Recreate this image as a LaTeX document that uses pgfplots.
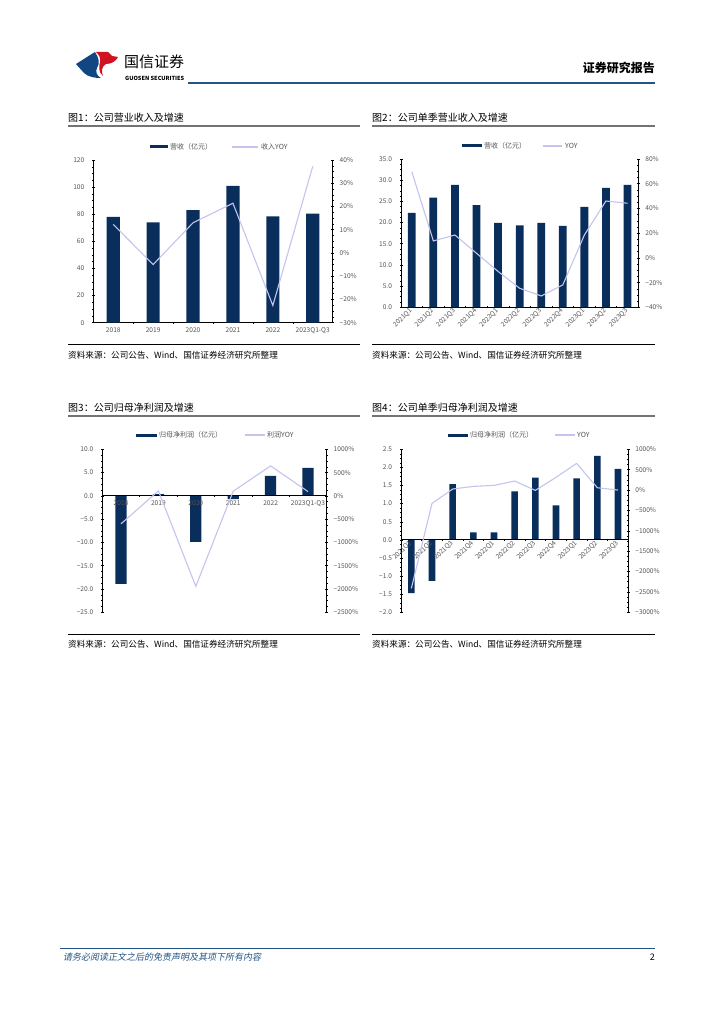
\documentclass[border=0pt]{standalone}
\usepackage{fontspec}
\setmainfont{Noto Sans CJK SC}
\newfontfamily\slantcjk{Noto Sans CJK SC}[FakeSlant=0.2]
\usepackage{pgfplots}
\pgfplotsset{compat=1.18}

\definecolor{navy}{RGB}{10,46,92}
\definecolor{lav}{RGB}{196,196,238}
\definecolor{hdrblue}{RGB}{34,84,134}
\definecolor{tickgray}{RGB}{85,85,85}
\definecolor{logored}{RGB}{206,20,35}
\definecolor{logoblue}{RGB}{18,70,130}

\newcommand\tickfont{\fontsize{6.6}{7.5}\selectfont}
\newcommand\legfont{\fontsize{7}{8}\selectfont}

\pgfplotsset{
  common/.style={
    scale only axis, anchor=south west, enlargelimits=false,
    tick label style={font=\tickfont, text=tickgray},
    /pgf/number format/assume math mode=true,
    tick align=inside,
    tick style={black, line width=0.5pt},
    major tick length=3pt, minor tick length=2pt,
  },
  nolinearrows/.style={
    axis line style={-, line width=0.8pt, black},
    every outer x axis line/.append style={-},
    every outer y axis line/.append style={-},
    every inner x axis line/.append style={-},
    every inner y axis line/.append style={-},
  },
  barax/.style={common, ybar, axis y line=left, axis x line=bottom, nolinearrows,
    y tick label style={xshift=-4pt},
    major x tick style={draw=none}, minor x tick style={black, line width=0.5pt}},
  barmid/.style={common, ybar, axis y line=left, axis x line=middle, nolinearrows,
    axis on top, y tick label style={xshift=-4pt},
    major x tick style={draw=none}, minor x tick style={black, line width=0.5pt}},
  lineax/.style={common, axis y line=right, axis x line=none, nolinearrows,
    y tick label style={xshift=2pt}},
  bars/.style={fill=navy, draw=none},
  yoy/.style={lav, line width=1.1pt, mark=none},
}

\begin{document}
\begin{tikzpicture}[x=1pt,y=1pt]
\fill[white] (0,0) rectangle (724,-1024);

% ---- header
\fill[logoblue] (76,-64) .. controls (84,-59) and (90,-55) .. (95,-52)
  .. controls (99,-58) and (100,-63) .. (97,-68)
  .. controls (95,-72) and (97,-76) .. (101,-78)
  .. controls (95,-78) and (88,-77) .. (84,-73) -- cycle;
\fill[logored] (96,-52) -- (108,-52) -- (112,-56) -- (118,-57)
  .. controls (116,-61) and (112,-64) .. (106,-64)
  .. controls (102,-66) and (101,-71) .. (103,-76)
  .. controls (98,-72) and (99,-66) .. (100,-62)
  .. controls (101,-58) and (99,-55) .. (96,-52) -- cycle;
\node[anchor=west, inner sep=0] at (124,-62) {\fontsize{15}{16}\selectfont 国信证券};
\node[anchor=west, inner sep=0] at (125,-78.5) {\fontsize{5.6}{6}\selectfont\bfseries GUOSEN SECURITIES};
\node[anchor=east, inner sep=0] at (655,-68) {\fontsize{12}{13}\selectfont\bfseries 证券研究报告};
\draw[hdrblue, line width=2pt] (188,-83) -- (655,-83);

% ---- titles, rules, sources
\newcommand\titlefont{\fontsize{10}{11}\selectfont}
\newcommand\srcfont{\fontsize{8.6}{9}\selectfont}
\node[anchor=west, inner sep=0] at (68,-118) {\titlefont 图1：公司营业收入及增速};
\node[anchor=west, inner sep=0] at (372,-118) {\titlefont 图2：公司单季营业收入及增速};
\node[anchor=west, inner sep=0] at (68,-408) {\titlefont 图3：公司归母净利润及增速};
\node[anchor=west, inner sep=0] at (372,-408) {\titlefont 图4：公司单季归母净利润及增速};
\foreach \y in {126,416} {
  \draw[black!55, line width=1.4pt] (68,-\y) -- (360,-\y);
  \draw[black!55, line width=1.4pt] (372,-\y) -- (655,-\y);
}
\foreach \y in {344,634} {
  \draw[black, line width=0.9pt] (68,-\y) -- (360,-\y);
  \draw[black, line width=0.9pt] (372,-\y) -- (655,-\y);
}
\node[anchor=west, inner sep=0] at (68,-355) {\srcfont 资料来源：公司公告、Wind、国信证券经济研究所整理};
\node[anchor=west, inner sep=0] at (372,-355) {\srcfont 资料来源：公司公告、Wind、国信证券经济研究所整理};
\node[anchor=west, inner sep=0] at (68,-644) {\srcfont 资料来源：公司公告、Wind、国信证券经济研究所整理};
\node[anchor=west, inner sep=0] at (372,-644) {\srcfont 资料来源：公司公告、Wind、国信证券经济研究所整理};

% ---- footer
\draw[hdrblue, line width=0.8pt] (60,-948) -- (655,-948);
\node[anchor=west, inner sep=0, text=hdrblue] at (63,-957) {\fontsize{9}{10}\slantcjk 请务必阅读正文之后的免责声明及其项下所有内容};
\node[anchor=east, inner sep=0] at (655,-957) {\fontsize{9}{10}\selectfont 2};

% ---- legends
\fill[navy] (150,-145.5) rectangle (168,-148.5);
\node[anchor=west, inner sep=0, text=tickgray] at (170,-147) {\legfont 营收（亿元）};
\draw[lav, line width=1.1pt] (232,-147) -- (258,-147);
\node[anchor=west, inner sep=0, text=tickgray] at (261,-147) {\legfont 收入YOY};

\fill[navy] (462,-144.5) rectangle (482,-147.5);
\node[anchor=west, inner sep=0, text=tickgray] at (484,-146) {\legfont 营收（亿元）};
\draw[lav, line width=1.1pt] (543,-146) -- (562,-146);
\node[anchor=west, inner sep=0, text=tickgray] at (565,-146) {\legfont YOY};

\fill[navy] (136,-433.5) rectangle (157,-436.5);
\node[anchor=west, inner sep=0, text=tickgray] at (159,-435) {\legfont 归母净利润（亿元）};
\draw[lav, line width=1.1pt] (245,-435) -- (265,-435);
\node[anchor=west, inner sep=0, text=tickgray] at (267,-435) {\legfont 利润YOY};

\fill[navy] (448,-433.5) rectangle (468,-436.5);
\node[anchor=west, inner sep=0, text=tickgray] at (470,-435) {\legfont 归母净利润（亿元）};
\draw[lav, line width=1.1pt] (555,-435) -- (575,-435);
\node[anchor=west, inner sep=0, text=tickgray] at (577,-435) {\legfont YOY};

% ===== Chart 1
\begin{axis}[barax, at={(93.3pt,-322.7pt)}, width=239.4pt, height=162.7pt,
  xmin=-0.5, xmax=5.5, ymin=0, ymax=120, ytick={0,20,...,120},
  minor y tick num=3,
  xtick={0,...,5}, xticklabels={2018,2019,2020,2021,2022,2023Q1-Q3},
  minor xtick={0.5,1.5,...,4.5}, bar width=0.33]
\addplot[bars] coordinates {(0,78) (1,74) (2,83) (3,101) (4,78.5) (5,80.5)};
\end{axis}
\begin{axis}[lineax, at={(93.3pt,-322.7pt)}, width=239.4pt, height=162.7pt,
  xmin=-0.5, xmax=5.5, ymin=-30, ymax=40, ytick={-30,-20,...,40},
  minor y tick num=3,
  yticklabels={−30\%,−20\%,−10\%,0\%,10\%,20\%,30\%,40\%}]
\addplot[yoy] coordinates {(0,12.3) (1,-5) (2,13) (3,21.4) (4,-22.6) (5,37.3)};
\end{axis}

% ===== Chart 2
\begin{axis}[barax, at={(401pt,-307.3pt)}, width=237.3pt, height=148.3pt,
  xmin=-0.5, xmax=10.5, ymin=0, ymax=35, ytick={0,5,...,35},
  yticklabels={0.0,5.0,10.0,15.0,20.0,25.0,30.0,35.0},
  minor y tick num=3,
  xtick={0,...,10},
  xticklabels={2021Q1,2021Q2,2021Q3,2021Q4,2022Q1,2022Q2,2022Q3,2022Q4,2023Q1,2023Q2,2023Q3},
  x tick label style={rotate=45, anchor=east, inner sep=1pt},
  minor xtick={0.5,1.5,...,9.5}, bar width=0.36]
\addplot[bars] coordinates {(0,22.3) (1,25.9) (2,28.9) (3,24.1) (4,19.9) (5,19.35)
  (6,19.9) (7,19.2) (8,23.7) (9,28.2) (10,28.9)};
\end{axis}
\begin{axis}[lineax, at={(401pt,-307.3pt)}, width=237.3pt, height=148.3pt,
  xmin=-0.5, xmax=10.5, ymin=-40, ymax=80, ytick={-40,-20,...,80},
  minor y tick num=3,
  yticklabels={−40\%,−20\%,0\%,20\%,40\%,60\%,80\%}]
\addplot[yoy] coordinates {(0,69.8) (1,13.7) (2,18.5) (3,3.7) (4,-11) (5,-24.6)
  (6,-30.8) (7,-21.9) (8,18.5) (9,46) (10,44.2)};
\end{axis}

% ===== Chart 3
\begin{axis}[barmid, at={(102.3pt,-612.3pt)}, width=224.4pt, height=163pt,
  xmin=-0.5, xmax=5.5, ymin=-25, ymax=10, ytick={-25,-20,...,10},
  yticklabels={−25.0,−20.0,−15.0,−10.0,−5.0,0.0,5.0,10.0},
  minor y tick num=3,
  xtick={0,...,5}, xticklabels={2018,2019,2020,2021,2022,2023Q1-Q3},
  minor xtick={0.5,1.5,...,4.5}, bar width=0.3]
\addplot[bars] coordinates {(0,-18.9) (1,0.4) (2,-9.86) (3,-0.7) (4,4.3) (5,6.0)};
\end{axis}
\begin{axis}[lineax, at={(102.3pt,-612.3pt)}, width=224.4pt, height=163pt,
  xmin=-0.5, xmax=5.5, ymin=-2500, ymax=1000, ytick={-2500,-2000,...,1000},
  minor y tick num=3,
  yticklabels={−2500\%,−2000\%,−1500\%,−1000\%,−500\%,0\%,500\%,1000\%}]
\addplot[yoy] coordinates {(0,-600) (1,107) (2,-1943) (3,100) (4,643) (5,93)};
\end{axis}

% ===== Chart 4
\begin{axis}[barmid, at={(401pt,-612.3pt)}, width=227.3pt, height=163pt,
  xmin=-0.5, xmax=10.5, ymin=-2, ymax=2.5, ytick={-2,-1.5,...,2.5},
  yticklabels={−2.0,−1.5,−1.0,−0.5,0.0,0.5,1.0,1.5,2.0,2.5},
  minor y tick num=3,
  xtick={0,...,10},
  xticklabels={2021Q1,2021Q2,2021Q3,2021Q4,2022Q1,2022Q2,2022Q3,2022Q4,2023Q1,2023Q2,2023Q3},
  x tick label style={rotate=45, anchor=east, inner sep=1pt},
  minor xtick={0.5,1.5,...,9.5}, bar width=0.32]
\addplot[bars] coordinates {(0,-1.47) (1,-1.13) (2,1.54) (3,0.21) (4,0.21) (5,1.34)
  (6,1.72) (7,0.95) (8,1.70) (9,2.32) (10,1.96)};
\end{axis}
\begin{axis}[lineax, at={(401pt,-612.3pt)}, width=227.3pt, height=163pt,
  xmin=-0.5, xmax=10.5, ymin=-3000, ymax=1000, ytick={-3000,-2500,...,1000},
  minor y tick num=3,
  yticklabels={−3000\%,−2500\%,−2000\%,−1500\%,−1000\%,−500\%,0\%,500\%,1000\%}]
\addplot[yoy] coordinates {(0,-2414) (1,-327) (2,25) (3,90) (4,115) (5,221)
  (6,-8) (7,311) (8,655) (9,57) (10,0)};
\end{axis}
\end{tikzpicture}
\end{document}
